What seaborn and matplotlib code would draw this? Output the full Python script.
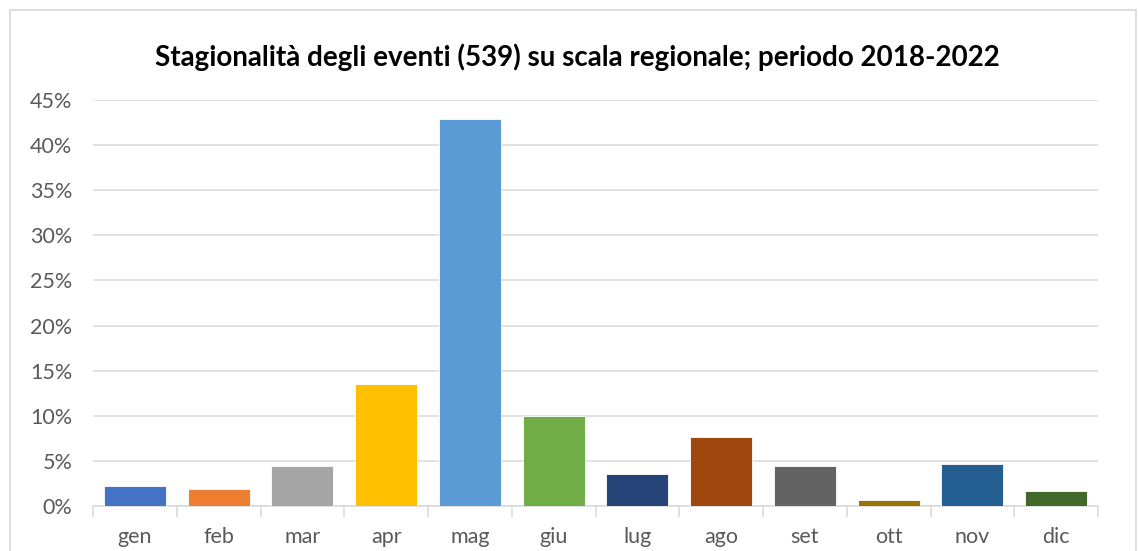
import matplotlib
matplotlib.use("Agg")
import matplotlib.pyplot as plt
import seaborn as sns
import pandas as pd
from matplotlib.patches import Rectangle
from matplotlib.ticker import FuncFormatter, FixedLocator

mesi = ["gen", "feb", "mar", "apr", "mag", "giu", "lug", "ago", "set", "ott", "nov", "dic"]
percentuali = [2.2, 1.85, 4.4, 13.5, 42.9, 10.0, 3.5, 7.6, 4.4, 0.7, 4.6, 1.7]
colori = ["#4472C4", "#ED7D31", "#A5A5A5", "#FFC000", "#5B9BD5", "#70AD47",
          "#264478", "#9E480E", "#636363", "#997300", "#255E91", "#43682B"]
titolo = "Stagionalità degli eventi (539) su scala regionale; periodo 2018-2022"

sns.set_style("white")
plt.rcParams["font.family"] = ["Lato", "DejaVu Sans"]

df = pd.DataFrame({"mese": mesi, "perc": percentuali})

fig = plt.figure(figsize=(11.38, 5.51), dpi=100)
ax = fig.add_axes([93 / 1138, 45 / 551, (1098 - 93) / 1138, (451 - 45) / 551])

sns.barplot(data=df, x="mese", y="perc", hue="mese", palette=colori, legend=False,
            width=0.74, saturation=1, ax=ax, zorder=3, edgecolor="white", linewidth=0.6)

ax.set_ylim(0, 45)
ax.set_xlim(-0.5, 11.5)
ax.set_yticks(range(0, 46, 5))
ax.yaxis.set_major_formatter(FuncFormatter(lambda v, p: f"{int(v)}%"))
ax.grid(axis="y", color="#d9d9d9", linewidth=1.1, zorder=0)
ax.set_axisbelow(True)
for s in ["top", "right", "left"]:
    ax.spines[s].set_visible(False)
ax.spines["bottom"].set_color("#d9d9d9")
ax.spines["bottom"].set_linewidth(1.1)
ax.set_xlabel("")
ax.set_ylabel("")

ax.tick_params(axis="y", length=0, pad=15, labelsize=15.5, labelcolor="#595959")
ax.tick_params(axis="x", which="major", length=0, pad=15, labelsize=15.5, labelcolor="#595959")
ax.xaxis.set_minor_locator(FixedLocator([i - 0.5 for i in range(13)]))
ax.tick_params(axis="x", which="minor", length=8, width=1.1, color="#d9d9d9", bottom=True)

fig.text(0.507, 0.897, titolo, ha="center", va="center", fontsize=20, fontweight="bold", color="black")

fig.patches.append(Rectangle((10 / 1138, -0.01), 1126 / 1138, 1 - 10 / 551 + 0.01,
                             transform=fig.transFigure, fill=False, edgecolor="#d9d9d9", linewidth=1.2))

fig.savefig("out.png", dpi=100)
